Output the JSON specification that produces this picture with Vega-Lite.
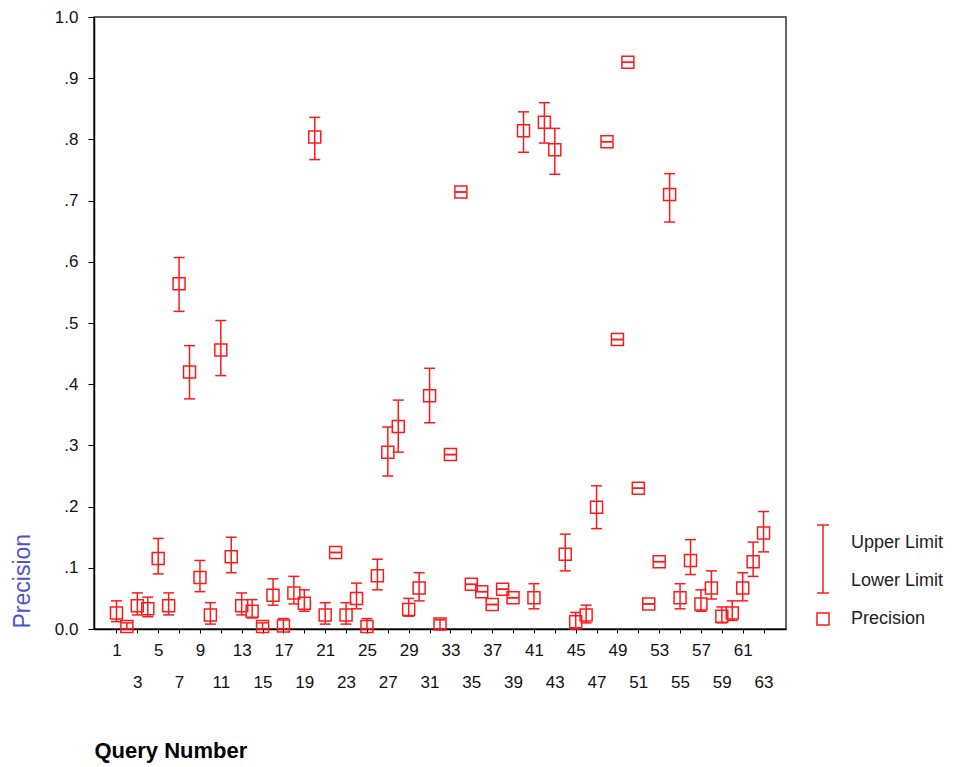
{
  "$schema": "https://vega.github.io/schema/vega-lite/v6.json",
  "width": 692,
  "height": 612,
  "autosize": "none",
  "padding": {"left": 94, "top": 17, "right": 167, "bottom": 138},
  "background": "white",
  "config": {
    "font": "Liberation Sans",
    "view": {"stroke": "#333", "strokeWidth": 1.5}
  },
  "data": {
    "values": [
      {"q": 1, "p": 0.026, "lo": 0.012, "hi": 0.046},
      {"q": 2, "p": 0.004, "lo": 0.0, "hi": 0.010},
      {"q": 3, "p": 0.038, "lo": 0.023, "hi": 0.059},
      {"q": 4, "p": 0.033, "lo": 0.020, "hi": 0.052},
      {"q": 5, "p": 0.115, "lo": 0.090, "hi": 0.148},
      {"q": 6, "p": 0.038, "lo": 0.023, "hi": 0.059},
      {"q": 7, "p": 0.564, "lo": 0.519, "hi": 0.607},
      {"q": 8, "p": 0.420, "lo": 0.376, "hi": 0.463},
      {"q": 9, "p": 0.084, "lo": 0.061, "hi": 0.112},
      {"q": 10, "p": 0.023, "lo": 0.008, "hi": 0.043},
      {"q": 11, "p": 0.456, "lo": 0.414, "hi": 0.504},
      {"q": 12, "p": 0.118, "lo": 0.092, "hi": 0.150},
      {"q": 13, "p": 0.038, "lo": 0.023, "hi": 0.059},
      {"q": 14, "p": 0.029, "lo": 0.018, "hi": 0.048},
      {"q": 15, "p": 0.004, "lo": 0.0, "hi": 0.010},
      {"q": 16, "p": 0.055, "lo": 0.039, "hi": 0.082},
      {"q": 17, "p": 0.005, "lo": 0.0, "hi": 0.017},
      {"q": 18, "p": 0.059, "lo": 0.041, "hi": 0.086},
      {"q": 19, "p": 0.042, "lo": 0.029, "hi": 0.064},
      {"q": 20, "p": 0.804, "lo": 0.767, "hi": 0.836},
      {"q": 21, "p": 0.023, "lo": 0.008, "hi": 0.043},
      {"q": 22, "p": 0.125, "lo": 0.125, "hi": 0.125},
      {"q": 23, "p": 0.023, "lo": 0.008, "hi": 0.043},
      {"q": 24, "p": 0.050, "lo": 0.033, "hi": 0.075},
      {"q": 25, "p": 0.004, "lo": 0.0, "hi": 0.017},
      {"q": 26, "p": 0.087, "lo": 0.064, "hi": 0.114},
      {"q": 27, "p": 0.289, "lo": 0.250, "hi": 0.330},
      {"q": 28, "p": 0.331, "lo": 0.289, "hi": 0.374},
      {"q": 29, "p": 0.032, "lo": 0.021, "hi": 0.050},
      {"q": 30, "p": 0.067, "lo": 0.046, "hi": 0.092},
      {"q": 31, "p": 0.381, "lo": 0.337, "hi": 0.426},
      {"q": 32, "p": 0.008, "lo": 0.0, "hi": 0.015},
      {"q": 33, "p": 0.285, "lo": 0.285, "hi": 0.285},
      {"q": 34, "p": 0.714, "lo": 0.714, "hi": 0.714},
      {"q": 35, "p": 0.073, "lo": 0.073, "hi": 0.073},
      {"q": 36, "p": 0.061, "lo": 0.061, "hi": 0.061},
      {"q": 37, "p": 0.040, "lo": 0.040, "hi": 0.040},
      {"q": 38, "p": 0.065, "lo": 0.065, "hi": 0.065},
      {"q": 39, "p": 0.051, "lo": 0.051, "hi": 0.051},
      {"q": 40, "p": 0.814, "lo": 0.779, "hi": 0.845},
      {"q": 41, "p": 0.051, "lo": 0.033, "hi": 0.074},
      {"q": 42, "p": 0.828, "lo": 0.794, "hi": 0.860},
      {"q": 43, "p": 0.783, "lo": 0.743, "hi": 0.818},
      {"q": 44, "p": 0.122, "lo": 0.095, "hi": 0.155},
      {"q": 45, "p": 0.012, "lo": 0.0, "hi": 0.027},
      {"q": 46, "p": 0.023, "lo": 0.010, "hi": 0.039},
      {"q": 47, "p": 0.199, "lo": 0.164, "hi": 0.234},
      {"q": 48, "p": 0.796, "lo": 0.796, "hi": 0.796},
      {"q": 49, "p": 0.473, "lo": 0.473, "hi": 0.473},
      {"q": 50, "p": 0.926, "lo": 0.926, "hi": 0.926},
      {"q": 51, "p": 0.230, "lo": 0.230, "hi": 0.230},
      {"q": 52, "p": 0.041, "lo": 0.041, "hi": 0.041},
      {"q": 53, "p": 0.110, "lo": 0.110, "hi": 0.110},
      {"q": 54, "p": 0.710, "lo": 0.665, "hi": 0.744},
      {"q": 55, "p": 0.051, "lo": 0.033, "hi": 0.074},
      {"q": 56, "p": 0.112, "lo": 0.089, "hi": 0.146},
      {"q": 57, "p": 0.041, "lo": 0.029, "hi": 0.064},
      {"q": 58, "p": 0.067, "lo": 0.049, "hi": 0.095},
      {"q": 59, "p": 0.021, "lo": 0.010, "hi": 0.036},
      {"q": 60, "p": 0.026, "lo": 0.014, "hi": 0.046},
      {"q": 61, "p": 0.067, "lo": 0.046, "hi": 0.092},
      {"q": 62, "p": 0.110, "lo": 0.086, "hi": 0.142},
      {"q": 63, "p": 0.157, "lo": 0.126, "hi": 0.192}
    ]
  },
  "encoding": {
    "x": {
      "field": "q",
      "type": "quantitative",
      "title": "Query Number",
      "scale": {"domain": [-1.15, 65.15], "nice": false, "zero": false},
      "axis": {
        "values": [1,3,5,7,9,11,13,15,17,19,21,23,25,27,29,31,33,35,37,39,41,43,45,47,49,51,53,55,57,59,61,63],
        "grid": false,
        "domainColor": "#000",
        "domainWidth": 1.5,
        "tickColor": "#000",
        "tickSize": 4,
        "labelFont": "Liberation Sans",
        "labelFontSize": 17,
        "labelColor": "#111",
        "labelPadding": 9,
        "labelBaseline": "top",
        "labelLineHeight": 32.5,
        "labelOverlap": false,
        "labelFlush": false,
        "labelBound": false,
        "labelExpr": "(datum.value - 1) % 4 == 0 ? datum.label : ['', datum.label]",
        "titleFont": "Liberation Sans",
        "titleFontSize": 22,
        "titleFontWeight": "bold",
        "titleColor": "#000",
        "titleAnchor": "start",
        "titleAlign": "left",
        "titleBaseline": "middle",
        "titleX": 0,
        "titleY": 121
      }
    }
  },
  "layer": [
    {
      "mark": {"type": "rule", "color": "#ff1a1a", "strokeWidth": 1.5},
      "encoding": {
        "y": {
          "field": "lo",
          "type": "quantitative",
          "title": "Precision",
          "scale": {"domain": [0, 1], "nice": false},
          "axis": {
            "values": [0,0.1,0.2,0.3,0.4,0.5,0.6,0.7,0.8,0.9,1],
            "grid": false,
            "domainColor": "#000",
            "domainWidth": 1.5,
            "tickColor": "#000",
            "tickSize": 6,
            "labelFont": "Liberation Sans",
            "labelFontSize": 17,
            "labelColor": "#111",
            "labelPadding": 10,
            "labelOverlap": false,
            "labelFlush": false,
            "labelExpr": "datum.value == 0 ? '0.0' : datum.value == 1 ? '1.0' : replace(format(datum.value, '.1f'), '0.', '.')",
            "titleFont": "Liberation Sans",
            "titleFontSize": 23,
            "titleFontWeight": "normal",
            "titleColor": "#5050cc",
            "titleAngle": -90,
            "titleAlign": "left",
            "titleBaseline": "middle",
            "titleX": -72,
            "titleY": 611
          }
        },
        "y2": {"field": "hi"}
      }
    },
    {
      "mark": {"type": "tick", "orient": "horizontal", "color": "#ff1a1a", "size": 11, "thickness": 1.5, "opacity": 1},
      "encoding": {
        "y": {"field": "hi", "type": "quantitative", "title": "Precision"}
      }
    },
    {
      "mark": {"type": "tick", "orient": "horizontal", "color": "#ff1a1a", "size": 11, "thickness": 1.5, "opacity": 1},
      "encoding": {
        "y": {"field": "lo", "type": "quantitative", "title": "Precision"}
      }
    },
    {
      "mark": {"type": "point", "filled": false, "color": "#ff1a1a", "size": 144, "strokeWidth": 1.5, "opacity": 1},
      "encoding": {
        "y": {"field": "p", "type": "quantitative", "title": "Precision"},
        "shape": {
          "datum": "Precision",
          "type": "nominal",
          "scale": {
            "domain": ["Upper Limit", "Lower Limit", "Precision"],
            "range": [
              "M-1,-3L1,-3M0,-3L0,3.2",
              "M0,-3.2L0,2M-1,2L1,2",
              "M-1,-1L1,-1L1,1L-1,1Z"
            ]
          },
          "legend": {
            "title": null,
            "orient": "none",
            "legendX": 720,
            "legendY": 507,
            "padding": 0,
            "clipHeight": 38,
            "symbolSize": 144,
            "symbolStrokeColor": "#ff1a1a",
            "symbolFillColor": "transparent",
            "symbolStrokeWidth": 1.5,
            "labelFont": "Liberation Sans",
            "labelFontSize": 18,
            "labelColor": "#222",
            "labelOffset": 19,
            "rowPadding": 0
          }
        }
      }
    }
  ]
}
